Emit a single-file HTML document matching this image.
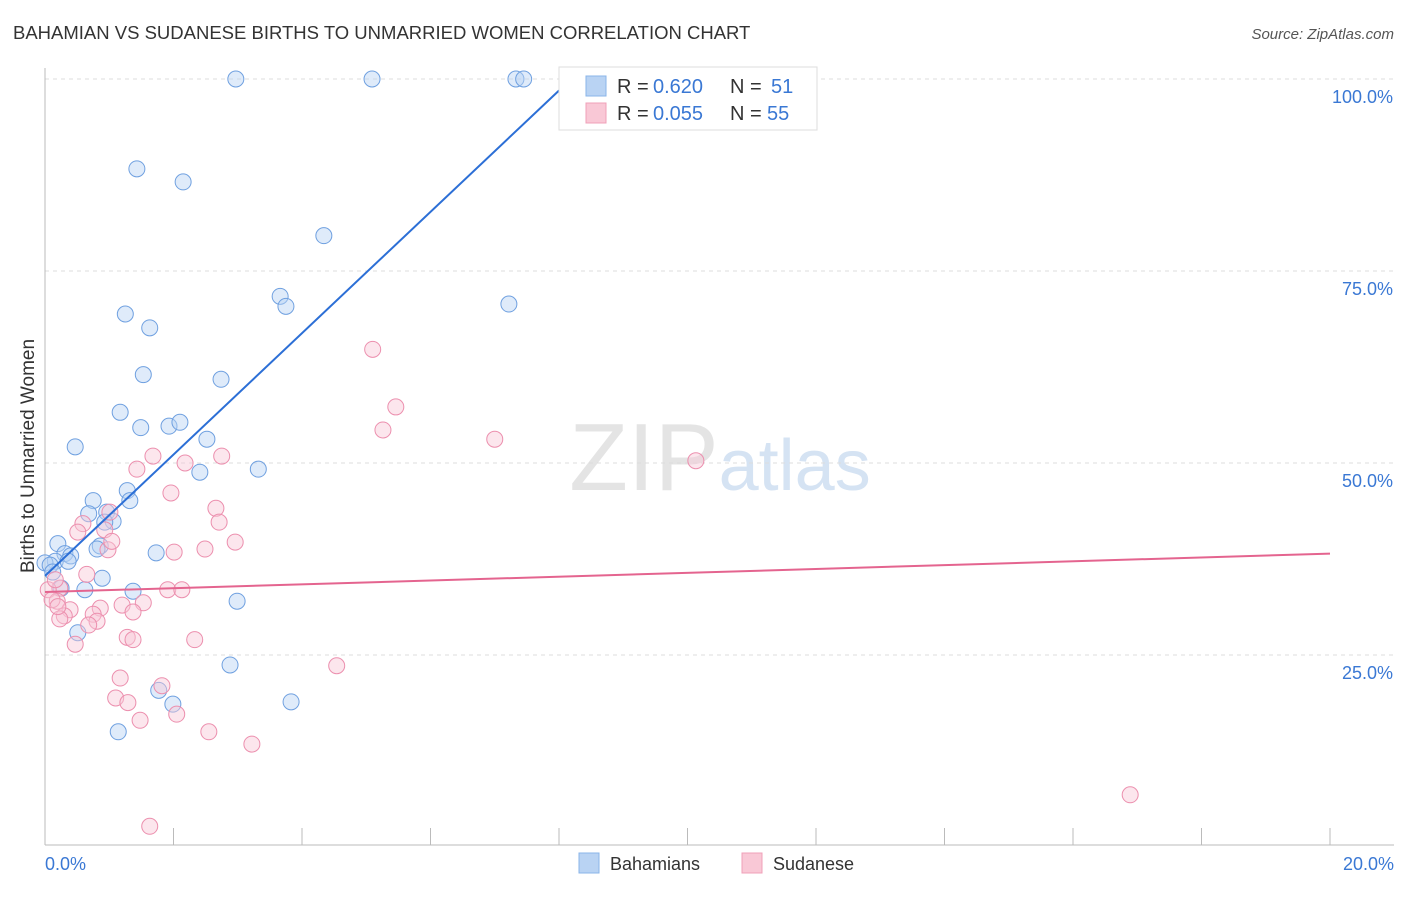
<!DOCTYPE html>
<html><head><meta charset="utf-8"><style>
body{margin:0;background:#fff;font-family:"Liberation Sans",sans-serif;}
svg text{font-family:"Liberation Sans",sans-serif;}
</style></head><body>
<svg id="chart" width="1406" height="892" xmlns="http://www.w3.org/2000/svg">
<text x="13" y="39" font-size="18.5" fill="#333">BAHAMIAN VS SUDANESE BIRTHS TO UNMARRIED WOMEN CORRELATION CHART</text>
<text x="1394" y="39" font-size="15" fill="#555" text-anchor="end" font-style="italic">Source: ZipAtlas.com</text>
<text x="720" y="490" font-size="96" text-anchor="middle" fill="#e4e4e4" font-family="Liberation Serif">ZIP<tspan fill="#d5e3f3" font-family="Liberation Sans" font-size="72">atlas</tspan></text>
<g id="grid"></g>
<g id="axes"></g>
<g id="points"></g>
<g id="lines"></g>
<text transform="translate(34,456) rotate(-90)" font-size="19" fill="#333" text-anchor="middle">Births to Unmarried Women</text>
<g>
<rect x="559" y="67" width="258" height="63" fill="#fff" stroke="#ddd"/>
<rect x="586" y="76" width="20" height="20" fill="#b9d3f3" stroke="#8ab4e8"/>
<text x="617" y="93" font-size="20" fill="#333">R =</text>
<text x="653" y="93" font-size="20" fill="#3a78d4">0.620</text>
<text x="730" y="93" font-size="20" fill="#333">N =</text>
<text x="771" y="93" font-size="20" fill="#3a78d4">51</text>
<rect x="586" y="103" width="20" height="20" fill="#f9c8d6" stroke="#f0a0b8"/>
<text x="617" y="120" font-size="20" fill="#333">R =</text>
<text x="653" y="120" font-size="20" fill="#3a78d4">0.055</text>
<text x="730" y="120" font-size="20" fill="#333">N =</text>
<text x="767" y="120" font-size="20" fill="#3a78d4">55</text>
</g>
<g><rect x="579" y="853" width="20" height="20" fill="#b9d3f3" stroke="#8ab4e8"/><text x="610" y="870" font-size="18" fill="#333">Bahamians</text></g>
<g><rect x="742" y="853" width="20" height="20" fill="#f9c8d6" stroke="#f0a0b8"/><text x="773" y="870" font-size="18" fill="#333">Sudanese</text></g>
</svg>
<script>
const blueX=[2.97,5.09,7.33,7.45,1.43,2.15,4.34,3.66,3.75,7.22,1.25,1.63,1.53,2.74,1.17,1.49,1.93,2.10,0.47,2.52,2.41,3.32,1.28,0.75,1.32,0.68,0.96,1.06,0.93,0.20,0.86,0.81,0.31,0.40,1.73,0.16,0.36,0,0.08,0.12,0.89,0.62,1.37,0.25,2.99,0.51,2.88,1.77,1.99,3.83,1.14];
const blueY=[100,100,100,100,88.3,86.6,79.6,71.7,70.4,70.7,69.4,67.6,61.5,60.9,56.6,54.6,54.8,55.3,52.1,53.1,48.8,49.2,46.4,45.1,45.1,43.4,43.6,42.4,42.3,39.5,39.2,38.8,38.2,37.9,38.3,37.2,37.2,37.0,36.7,35.8,35.0,33.5,33.3,33.7,32.0,27.9,23.7,20.4,18.6,18.9,15.0];
const pinkX=[5.10,5.46,5.26,7.00,10.13,1.68,1.43,2.18,2.75,1.96,2.66,1.01,0.59,2.71,0.93,0.51,2.96,2.49,2.01,0.98,0.65,1.91,2.13,0.23,0.05,0.19,1.53,1.20,0.39,0.86,0.75,0.30,1.37,0.23,0.81,0.68,1.28,1.37,2.33,0.47,4.54,1.17,1.82,1.10,1.29,1.48,2.05,2.55,3.22,16.89,1.63,0.16,0.11,1.04,0.20];
const pinkY=[64.8,57.3,54.3,53.1,50.3,50.9,49.2,50.0,50.9,46.1,44.1,43.6,42.1,42.3,41.3,41.0,39.7,38.8,38.4,38.7,35.5,33.5,33.5,33.7,33.5,32.0,31.8,31.5,30.9,31.1,30.3,30.1,30.6,29.7,29.4,28.9,27.3,27.0,27.0,26.4,23.6,22.0,21.0,19.4,18.8,16.5,17.3,15.0,13.4,6.8,2.7,34.8,32.2,39.8,31.3];
const yTicks=[25,50,75,100];
const yTickLabels=["25.0%","50.0%","75.0%","100.0%"];
const xTicks=[0,2,4,6,8,10,12,14,16,18,20];
const blueLine=[35.3,7.9,0,8.0];
const pinkLine=[33.2,0.25,0,20];
const NS="http://www.w3.org/2000/svg";
const X=v=>45+v/20*1285, Y=v=>847-v/100*768;
function mk(t,a,p){const e=document.createElementNS(NS,t);for(const k in a)e.setAttribute(k,a[k]);p.appendChild(e);return e;}
const grid=document.getElementById('grid'),axes=document.getElementById('axes'),pts=document.getElementById('points'),lines=document.getElementById('lines');
yTicks.forEach((t,i)=>{
 const l=mk('line',{x1:45,x2:1394,y1:Y(t),y2:Y(t),stroke:'#ddd','stroke-dasharray':'4,4'},grid);
 
 
 const tx=mk('text',{x:1393,y:Y(t)+24,'font-size':18,fill:'#3a78d4','text-anchor':'end'},axes);
 tx.textContent=yTickLabels[i];
 
 
});
const ax=mk('line',{x1:45,x2:45,y1:68,y2:845,stroke:'#bbb'},axes);


const bx=mk('line',{x1:45,x2:1394,y1:845,y2:845,stroke:'#bbb'},axes);


xTicks.forEach(t=>{
 const l=mk('line',{x1:X(t),x2:X(t),y1:828,y2:845,stroke:'#bbb'},axes);
 
 
});
const x0=mk('text',{x:45,y:870,'font-size':18,fill:'#3a78d4'},axes);x0.textContent='0.0%';


const x1=mk('text',{x:1394,y:870,'font-size':18,fill:'#3a78d4','text-anchor':'end'},axes);x1.textContent='20.0%';


function dots(xs,ys,fill,stroke,name){xs.forEach((v,i)=>{
 const c=mk('circle',{cx:X(v),cy:Y(ys[i]),r:8,fill:fill,'fill-opacity':0.45,stroke:stroke,'stroke-width':1},pts);
 
 
});}
dots(blueX,blueY,'#b9d3f3','#6fa0e0','point-bahamian');
dots(pinkX,pinkY,'#f9c8d6','#ec8fae','point-sudanese');
function reg(p,col,name){
 const l=mk('line',{x1:X(p[2]),y1:Y(p[0]+p[1]*p[2]),x2:X(p[3]),y2:Y(p[0]+p[1]*p[3]),stroke:col,'stroke-width':2},lines);
 
 
}
reg(blueLine,'#2c6fd6','trend-line-bahamians');
reg(pinkLine,'#e4648f','trend-line-sudanese');
</script>
</body></html>
